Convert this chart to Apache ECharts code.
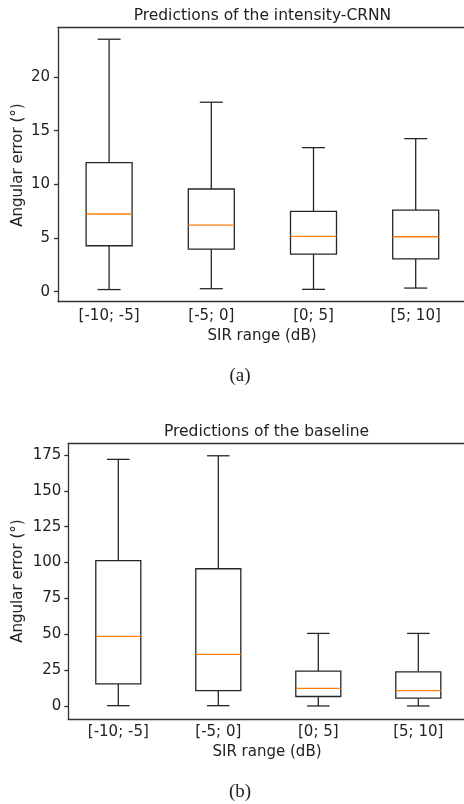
<!DOCTYPE html>
<html>
<head>
<meta charset="utf-8">
<script src="https://cdn.jsdelivr.net/npm/echarts@6/dist/echarts.min.js"></script>
<style>html,body{margin:0;padding:0;background:#fff}#c{width:464px;height:804px}</style>
</head>
<body>
<div id="c"></div>
<script>
// categories (SIR ranges)
const categories = ['[-10; -5]', '[-5; 0]', '[0; 5]', '[5; 10]'];
// box statistics per category: [lower whisker, Q1, median, Q3, upper whisker]
const crnnLow    = [0.20, 0.28, 0.22, 0.34];
const crnnQ1     = [4.28, 3.97, 3.50, 3.05];
const crnnMedian = [7.24, 6.21, 5.16, 5.12];
const crnnQ3     = [12.02, 9.57, 7.49, 7.60];
const crnnHigh   = [23.52, 17.65, 13.42, 14.26];

const baseLow    = [0.2, 0.2, 0.0, 0.0];
const baseQ1     = [15.4, 10.7, 6.6, 5.4];
const baseMedian = [48.6, 36.0, 12.3, 10.7];
const baseQ3     = [101.3, 95.7, 24.3, 23.8];
const baseHigh   = [172.0, 174.5, 50.6, 50.6];

// tick labels
const crnnTicks = [0, 5, 10, 15, 20];
const baseTicks = [0, 25, 50, 75, 100, 125, 150, 175];

function rows(lo, q1, med, q3, hi) {
  return categories.map((c, i) => [i, lo[i], q1[i], med[i], q3[i], hi[i]]);
}

const LINE = '#262626';
const LW = 1.3;
const MED = '#ff7f0e';

function renderBox(params, api) {
  const i = api.value(0);
  const band = api.size([1, 0])[0];
  const bw = band * 0.45, cw = band * 0.225;
  const pLo = api.coord([i, api.value(1)]);
  const pQ1 = api.coord([i, api.value(2)]);
  const pMed = api.coord([i, api.value(3)]);
  const pQ3 = api.coord([i, api.value(4)]);
  const pHi = api.coord([i, api.value(5)]);
  const cx = pQ1[0];
  const ls = { stroke: LINE, lineWidth: LW, fill: null };
  return {
    type: 'group',
    children: [
      { type: 'line', shape: { x1: cx, y1: pQ1[1], x2: cx, y2: pLo[1] }, style: ls },
      { type: 'line', shape: { x1: cx, y1: pQ3[1], x2: cx, y2: pHi[1] }, style: ls },
      { type: 'line', shape: { x1: cx - cw / 2, y1: pLo[1], x2: cx + cw / 2, y2: pLo[1] }, style: ls },
      { type: 'line', shape: { x1: cx - cw / 2, y1: pHi[1], x2: cx + cw / 2, y2: pHi[1] }, style: ls },
      { type: 'rect', shape: { x: cx - bw / 2, y: pQ3[1], width: bw, height: pQ1[1] - pQ3[1] }, style: { stroke: LINE, lineWidth: LW, fill: '#fff' } },
      { type: 'line', shape: { x1: cx - bw / 2, y1: pMed[1], x2: cx + bw / 2, y2: pMed[1] }, style: { stroke: MED, lineWidth: LW } }
    ]
  };
}

const FONT = 'DejaVu Sans';
const axisLineStyle = { color: '#333', width: LW };

function xAxis(gi, margin) {
  return {
    type: 'category', gridIndex: gi, data: categories, boundaryGap: true,
    axisLine: { onZero: false, lineStyle: axisLineStyle },
    axisTick: { alignWithLabel: true, length: 4, lineStyle: axisLineStyle },
    axisLabel: { fontFamily: FONT, fontSize: 15, color: '#222', margin: margin },
    splitLine: { show: false }
  };
}
function topSpine(gi) {
  return {
    type: 'category', gridIndex: gi, position: 'top', data: categories,
    axisLine: { onZero: false, lineStyle: axisLineStyle },
    axisTick: { show: false }, axisLabel: { show: false }, splitLine: { show: false }
  };
}
function yAxis(gi, min, max, ticks, margin) {
  return {
    type: 'value', gridIndex: gi, min: min, max: max,
    axisLine: { show: true, onZero: false, lineStyle: axisLineStyle },
    axisTick: { show: true, length: 4, lineStyle: axisLineStyle, customValues: ticks },
    axisLabel: { fontFamily: FONT, fontSize: 15, color: '#222', margin: margin, customValues: ticks },
    splitLine: { show: false }
  };
}

function txt(x, y, text, size, rot, family) {
  return {
    type: 'text', x: x, y: y, rotation: rot || 0,
    style: { text: text, font: size + 'px "' + (family || FONT) + '"', fill: '#222', align: 'center', verticalAlign: 'middle' }
  };
}

const chart = echarts.init(document.getElementById('c'), null, { renderer: 'canvas' });
chart.setOption({
  animation: false,
  backgroundColor: '#fff',
  grid: [
    { left: 58, top: 27.3, width: 408.8, height: 274.4, outerBoundsMode: 'none', containLabel: false },
    { left: 68.3, top: 443.3, width: 400, height: 275.7, outerBoundsMode: 'none', containLabel: false }
  ],
  xAxis: [xAxis(0, 7), xAxis(1, 6), topSpine(0), topSpine(1)],
  yAxis: [yAxis(0, -0.93, 24.63, crnnTicks, 8), yAxis(1, -9.1, 183.2, baseTicks, 7)],
  series: [
    { type: 'custom', xAxisIndex: 0, yAxisIndex: 0, renderItem: renderBox, encode: { x: 0, y: [1, 2, 3, 4, 5] }, data: rows(crnnLow, crnnQ1, crnnMedian, crnnQ3, crnnHigh) },
    { type: 'custom', xAxisIndex: 1, yAxisIndex: 1, renderItem: renderBox, encode: { x: 0, y: [1, 2, 3, 4, 5] }, data: rows(baseLow, baseQ1, baseMedian, baseQ3, baseHigh) }
  ],
  graphic: [
    txt(262.4, 15.7, 'Predictions of the intensity-CRNN', 15.5),
    txt(18.5, 165, 'Angular error (°)', 15, Math.PI / 2),
    txt(262, 335.7, 'SIR range (dB)', 15),
    txt(240, 375.7, '(a)', 19, 0, 'Liberation Serif'),
    txt(266.5, 432, 'Predictions of the baseline', 15.5),
    txt(18, 581, 'Angular error (°)', 15, Math.PI / 2),
    txt(267, 752.3, 'SIR range (dB)', 15),
    txt(240, 792.3, '(b)', 19, 0, 'Liberation Serif')
  ]
});
</script>
</body>
</html>
